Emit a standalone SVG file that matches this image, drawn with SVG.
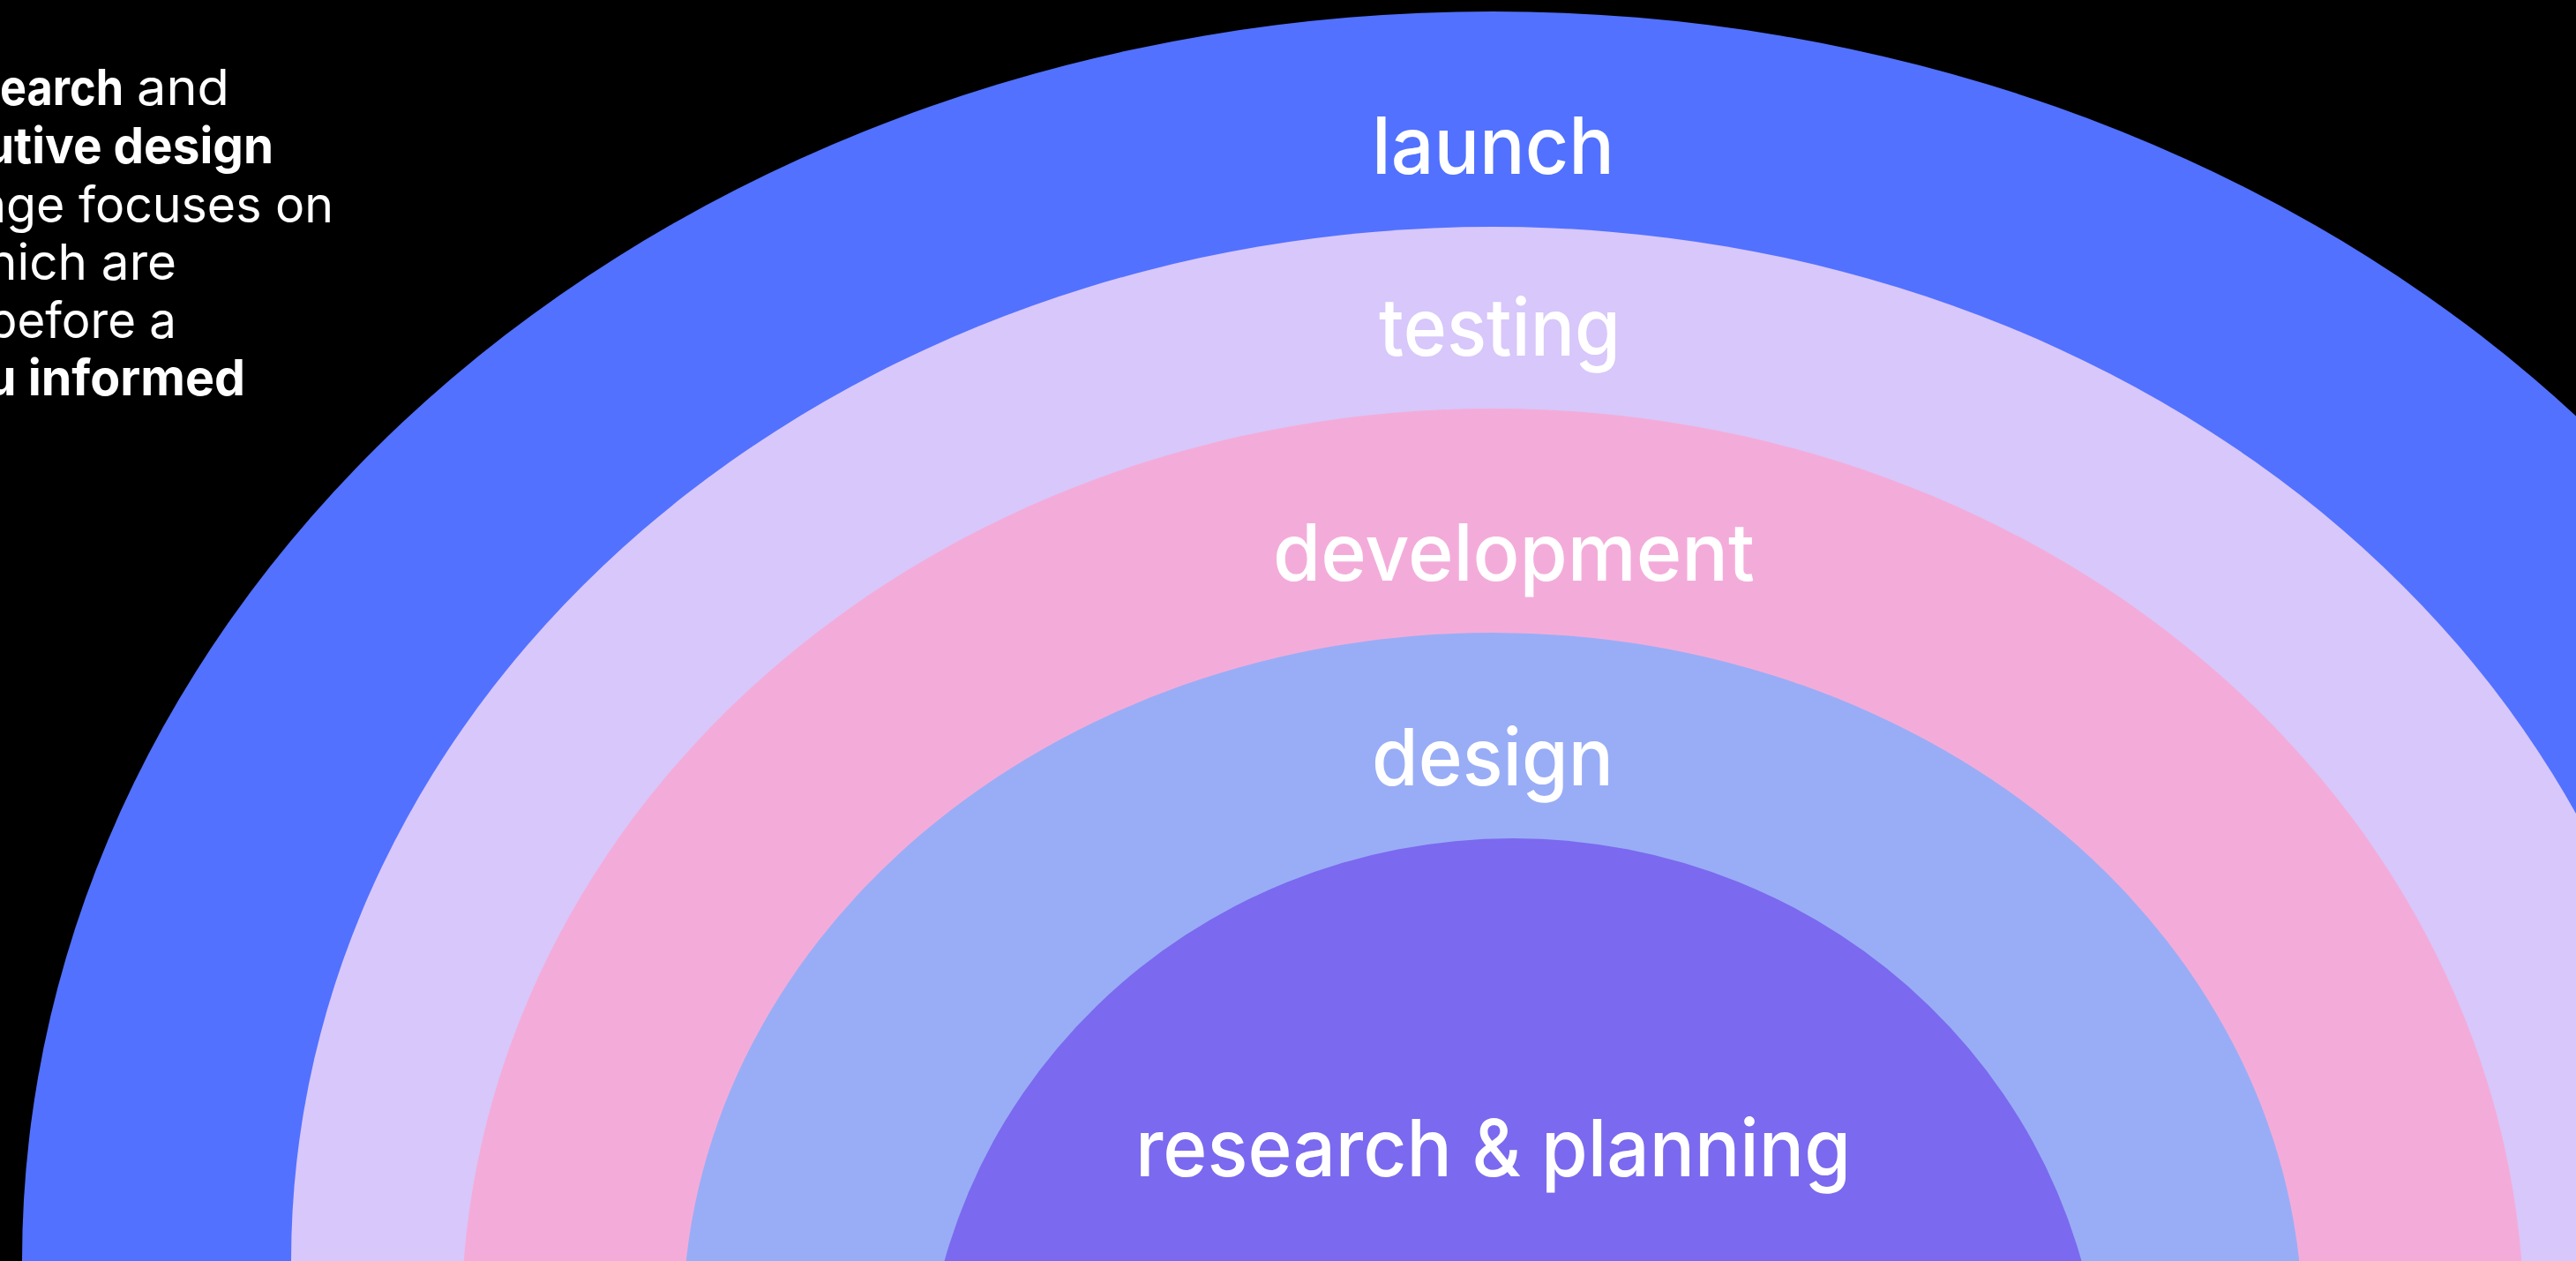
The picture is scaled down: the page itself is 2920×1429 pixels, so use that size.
<svg xmlns="http://www.w3.org/2000/svg" width="2920" height="1429" viewBox="0 0 2920 1429">
<style>
.lbl{font-family:"Inter","Noto Sans","Liberation Sans",sans-serif;font-size:90px;fill:#ffffff;font-weight:500}
.side{font-family:"Inter","Noto Sans","Liberation Sans",sans-serif;font-size:56px;fill:#ffffff}
.b{font-weight:700}
.r{font-weight:400}
</style>
<rect x="0" y="0" width="2920" height="1429" fill="#000000"/>
<g id="intro-text">
<text class="side b" x="0" y="119" textLength="140" lengthAdjust="spacingAndGlyphs">earch</text>
<text class="side r" x="155" y="119" textLength="105" lengthAdjust="spacingAndGlyphs">and</text>
<text class="side b" x="-18" y="185" textLength="328" lengthAdjust="spacingAndGlyphs">utive design</text>
<text class="side r" x="-24" y="252" textLength="402" lengthAdjust="spacingAndGlyphs">age focuses on</text>
<text class="side r" x="-14" y="317" textLength="214" lengthAdjust="spacingAndGlyphs">hich are</text>
<text class="side r" x="-14" y="383" textLength="214" lengthAdjust="spacingAndGlyphs">before a</text>
<text class="side b" x="-16" y="448" textLength="294" lengthAdjust="spacingAndGlyphs">u informed</text>
</g>
<g id="launch">
<ellipse cx="1692" cy="1429" rx="1667" ry="1416" fill="#5271ff"/>
<text class="lbl" x="1555" y="197" textLength="275" lengthAdjust="spacingAndGlyphs">launch</text>
</g>
<g id="testing">
<ellipse cx="1692" cy="1429" rx="1362" ry="1172" fill="#d8c7fa"/>
<text class="lbl" x="1563" y="403" textLength="274" lengthAdjust="spacingAndGlyphs">testing</text>
</g>
<g id="development">
<ellipse cx="1692" cy="1500" rx="1169" ry="1037" fill="#f3acda"/>
<text class="lbl" x="1443" y="658" textLength="546" lengthAdjust="spacingAndGlyphs">development</text>
</g>
<g id="design">
<ellipse cx="1692" cy="1500" rx="918" ry="783" fill="#99adf6"/>
<text class="lbl" x="1555" y="890" textLength="274" lengthAdjust="spacingAndGlyphs">design</text>
</g>
<g id="research-planning">
<ellipse cx="1715" cy="1600" rx="668" ry="650" fill="#7b69ef"/>
<text class="lbl" x="1287" y="1333" textLength="811" lengthAdjust="spacingAndGlyphs">research &amp; planning</text>
</g>
<g id="connectors"/>
</svg>
